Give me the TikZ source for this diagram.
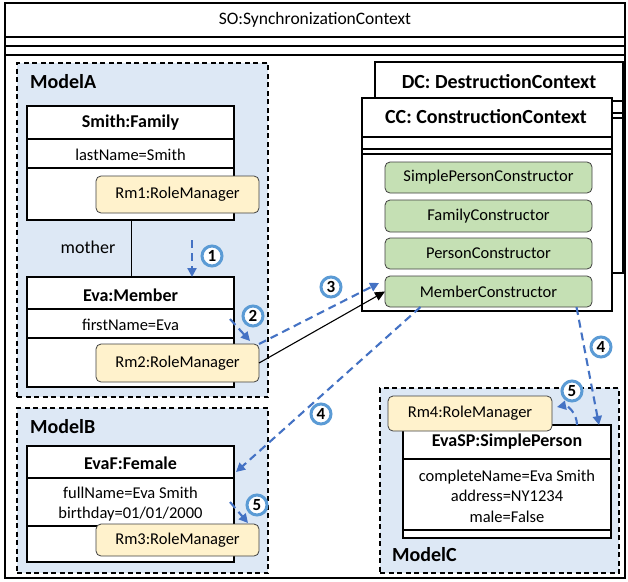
\documentclass[tikz,border=0pt]{standalone}
\usepackage{fontspec}
\setmainfont{Carlito}
\usetikzlibrary{arrows.meta}
\definecolor{modelblue}{RGB}{221,232,245}
\definecolor{rmyellow}{RGB}{255,242,204}
\definecolor{ctorgreen}{RGB}{197,224,180}
\definecolor{flowblue}{RGB}{68,114,196}
\definecolor{circblue}{RGB}{91,155,213}
\tikzset{
  box/.style n args={4}{anchor=north west, at={(#1,#2)},
    minimum width={#3-#1}, minimum height={#4-#2}, inner sep=0pt, outer sep=0pt},
  cls/.style={draw, line width=1.3pt, fill=white},
  sep/.style={line width=1.3pt},
  modelbox/.style={draw, fill=modelblue, line width=1.2pt, dash pattern=on 5pt off 3.5pt},
  rmbox/.style={draw=black!75, fill=rmyellow, rounded corners=5pt, line width=0.8pt,
    font=\fontsize{16.5}{19}\selectfont},
  ctorbox/.style={draw=black!75, fill=ctorgreen, rounded corners=5pt, line width=0.8pt,
    font=\fontsize{16.5}{19}\selectfont},
  ttl/.style={font=\bfseries\fontsize{18}{21}\selectfont, inner sep=0pt},
  bigttl/.style={font=\bfseries\fontsize{20}{23}\selectfont, inner sep=0pt},
  attr/.style={font=\fontsize{16.5}{20.5}\selectfont, inner sep=0pt, align=center},
  modellbl/.style={font=\bfseries\fontsize{20}{23}\selectfont, inner sep=0pt, anchor=west},
  numcirc/.style={circle, draw=circblue, line width=3pt, fill=white, minimum size=20pt,
    inner sep=0pt, font=\bfseries\fontsize{17}{17}\selectfont},
  flow/.style={draw=flowblue, line width=2.1pt, dash pattern=on 8pt off 5pt,
    -{Triangle[length=9pt,width=9pt,fill=flowblue]}},
  call/.style={draw=black, line width=1.1pt, -{Triangle[length=10pt,width=9pt]}}
}
\begin{document}
\begin{tikzpicture}[x=1pt,y=-1pt]
\useasboundingbox (0,0) rectangle (628,581);
\fill[white] (0,0) rectangle (628,581);

% SO outer
\node[cls, box={5}{3}{625}{578}] (so) {};
\node[font=\fontsize{17.5}{20}\selectfont, inner sep=0pt] (sot) at (315,20) {SO:SynchronizationContext};
\draw[sep] (5,37) -- (625,37);
\draw[sep] (5,46) -- (625,46);
\draw[sep] (5,55) -- (625,55);

% Models
\node[modelbox, box={17}{63}{268}{397}] (ma) {};
\node[modelbox, box={17}{408}{268}{573}] (mb) {};
\node[modelbox, box={380}{388}{619}{573}] (mc) {};
\node[modellbl] (mal) at (30,82) {ModelA};
\node[modellbl] (mbl) at (30,427) {ModelB};
\node[modellbl] (mcl) at (392,555) {ModelC};

% Smith:Family
\node[cls, box={27}{106}{234}{220}] (smith) {};
\draw[sep] (27,139) -- (234,139);
\draw[sep] (27,168) -- (234,168);
\node[ttl] (smitht) at (130.5,123) {Smith:Family};
\node[attr] (smitha) at (130.5,155) {lastName=Smith};
\node[rmbox, box={96}{176}{259}{213}] (rm1) {Rm1:RoleManager};

% Eva:Member
\node[cls, box={27}{277}{234}{387}] (eva) {};
\draw[sep] (27,309) -- (234,309);
\draw[sep] (27,338) -- (234,338);
\node[ttl] (evat) at (130.5,295) {Eva:Member};
\node[attr] (evaa) at (130.5,325) {firstName=Eva};
\node[rmbox, box={96}{344}{259}{382}] (rm2) {Rm2:RoleManager};

% association
\draw[line width=1pt] (smith.south -| 131,0) -- (eva.north -| 131,0);
\node[font=\fontsize{18}{20}\selectfont, inner sep=0pt] (mother) at (88,247) {mother};

% EvaF:Female
\node[cls, box={27}{446}{234}{562}] (evaf) {};
\draw[sep] (27,478) -- (234,478);
\draw[sep] (27,526) -- (234,526);
\node[ttl] (evaft) at (130.5,463) {EvaF:Female};
\node[attr] (evafa) at (130.5,504) {fullName=Eva Smith\\birthday=01/01/2000};
\node[rmbox, box={96}{524}{259}{556}] (rm3) {Rm3:RoleManager};

% DC
\node[cls, box={375}{62}{623}{273}] (dc) {};
\draw[sep] (375,101) -- (623,101);
\draw[sep] (375,113) -- (623,113);
\draw[sep] (375,118) -- (623,118);
\node[bigttl] (dct) at (499,81.5) {DC: DestructionContext};

% CC
\node[cls, box={362}{98}{612}{311}] (cc) {};
\draw[sep] (362,137) -- (612,137);
\draw[sep] (362,149) -- (612,149);
\draw[sep] (362,154) -- (612,154);
\node[bigttl] (cct) at (486,117) {CC: ConstructionContext};
\node[ctorbox, box={385}{162}{592}{193}] (spc) {SimplePersonConstructor};
\node[ctorbox, box={385}{200}{592}{232}] (fc) {FamilyConstructor};
\node[ctorbox, box={385}{238}{592}{269}] (pc) {PersonConstructor};
\node[ctorbox, box={385}{276}{592}{307}] (mcon) {MemberConstructor};

% EvaSP
\node[cls, box={403}{425}{611}{538}] (evasp) {};
\draw[sep] (403,459) -- (611,459);
\draw[sep] (403,530) -- (611,530);
\node[ttl] (evaspt) at (507,442) {EvaSP:SimplePerson};
\node[attr] (evaspa) at (507,496) {completeName=Eva Smith\\address=NY1234\\male=False};
\node[rmbox, box={388}{396}{552}{431}] (rm4) {Rm4:RoleManager};

% flow coordinates
\coordinate (f1s) at (192,240);
\coordinate (f2s) at (230,319);
\coordinate (f2e) at (250,341);
\coordinate (f5bs) at (230,502);
\coordinate (f5be) at (248,523);

% arrows
\draw[flow] (f1s) -- (f1s |- eva.north);
\draw[flow] (f2s) -- (f2e);
\draw[flow] (rm2.north east) -- ([shift={(-6,7)}]mcon.north west);
\draw[call] (rm2.east) -- (mcon.west);
\draw[flow] ([xshift=-68pt]mcon.south) -- ([shift={(2,26)}]evaf.north east);
\draw[flow] ([xshift=88pt]mcon.south) -- ([xshift=-12pt]evasp.north east);
\draw[flow] ([xshift=70pt]evasp.north) .. controls +(0,-12) and +(10,-2) .. ([shift={(5,11)}]rm4.north east);
\draw[flow] (f5bs) -- (f5be);

% numbers
\node[numcirc] (n1) at (212,256) {1};
\node[numcirc] (n2) at (253,316) {2};
\node[numcirc] (n3) at (331,287) {3};
\node[numcirc] (n4a) at (321,414) {4};
\node[numcirc] (n4b) at (601,347) {4};
\node[numcirc] (n5a) at (257,505) {5};
\node[numcirc] (n5b) at (572,391) {5};
\end{tikzpicture}
\end{document}
